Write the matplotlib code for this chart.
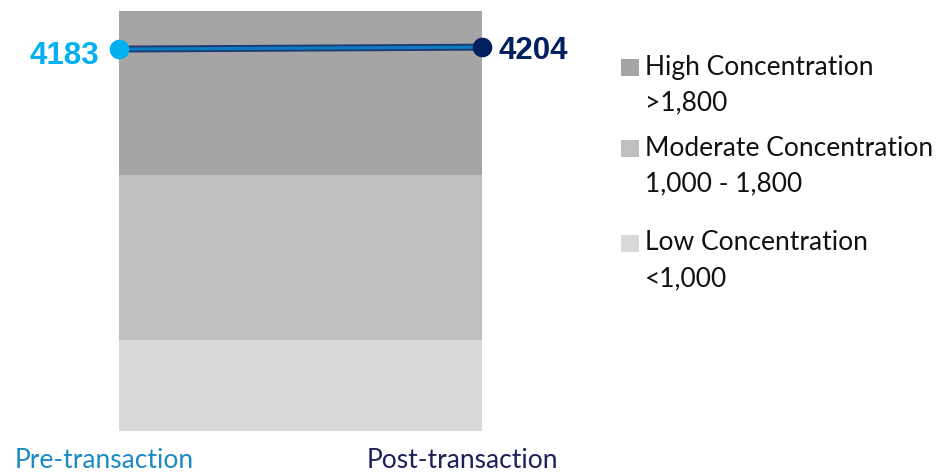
import matplotlib
matplotlib.use("Agg")
import matplotlib.pyplot as plt
from matplotlib.patches import Rectangle

# ---- data ----
band_names = ["Low Concentration", "Moderate Concentration", "High Concentration"]
band_ranges = ["<1,000", "1,000 - 1,800", ">1,800"]
band_heights = [1000, 1800, 1800]
band_colors = ["#D9D9D9", "#BFBFBF", "#A5A5A5"]

periods = ["Pre-transaction", "Post-transaction"]
hhi = [4183, 4204]
point_colors = ["#00B0F0", "#002060"]
label_colors = ["#1A8BC4", "#1F1F5A"]

W, H = 943, 475
fig = plt.figure(figsize=(W / 100, H / 100), dpi=100)
ax = fig.add_axes([119 / W, 1 - 431 / H, (482 - 119) / W, (431 - 11) / H])

# stacked background bands
bottom = 0
for h, c in zip(band_heights, band_colors):
    ax.bar(0.5, h, width=1.0, bottom=bottom, color=c, linewidth=0)
    bottom += h

xs = [0, 1]
ax.plot(xs, hhi, color="#1F3B73", linewidth=5.0, solid_capstyle="butt", zorder=3)
ax.plot(xs, hhi, color="#0A7CC4", linewidth=2.2, solid_capstyle="butt", zorder=4)
for x, v, c in zip(xs, hhi, point_colors):
    ax.scatter([x], [v], s=200, color=c, zorder=5, clip_on=False, linewidths=0)

# value labels
ax.annotate(str(hhi[0]), (0, hhi[0]), xytext=(-14, -5), textcoords="offset points",
            ha="right", va="center", fontsize=22.5, fontweight="bold",
            family="Liberation Sans", color=point_colors[0], annotation_clip=False)
ax.annotate(str(hhi[1]), (1, hhi[1]), xytext=(12, -3), textcoords="offset points",
            ha="left", va="center", fontsize=22.5, fontweight="bold",
            family="Liberation Sans", color=point_colors[1], annotation_clip=False)

ax.set_xlim(0, 1)
ax.set_ylim(0, sum(band_heights))
ax.axis("off")

# category labels under the chart
label_x = [104, 462]
for lx, txt, c in zip(label_x, periods, label_colors):
    fig.text(lx / W, 1 - 460 / H, txt, ha="center", va="center",
             fontsize=19, family="Lato", color=c)

# manual legend (high -> low)
leg_y = [67, 148, 243]
for i, y in enumerate(leg_y):
    k = 2 - i
    fig.patches.append(Rectangle((621 / W, 1 - (y + 9) / H), 18 / W, 17 / H,
                                 transform=fig.transFigure, color=band_colors[k],
                                 linewidth=0))
    fig.text(645 / W, 1 - y / H, band_names[k], ha="left", va="center",
             fontsize=19, family="Lato", color="#111111")
    fig.text(645 / W, 1 - (y + 36) / H, band_ranges[k], ha="left", va="center",
             fontsize=19, family="Lato", color="#111111")

fig.savefig("out.png", dpi=100)
